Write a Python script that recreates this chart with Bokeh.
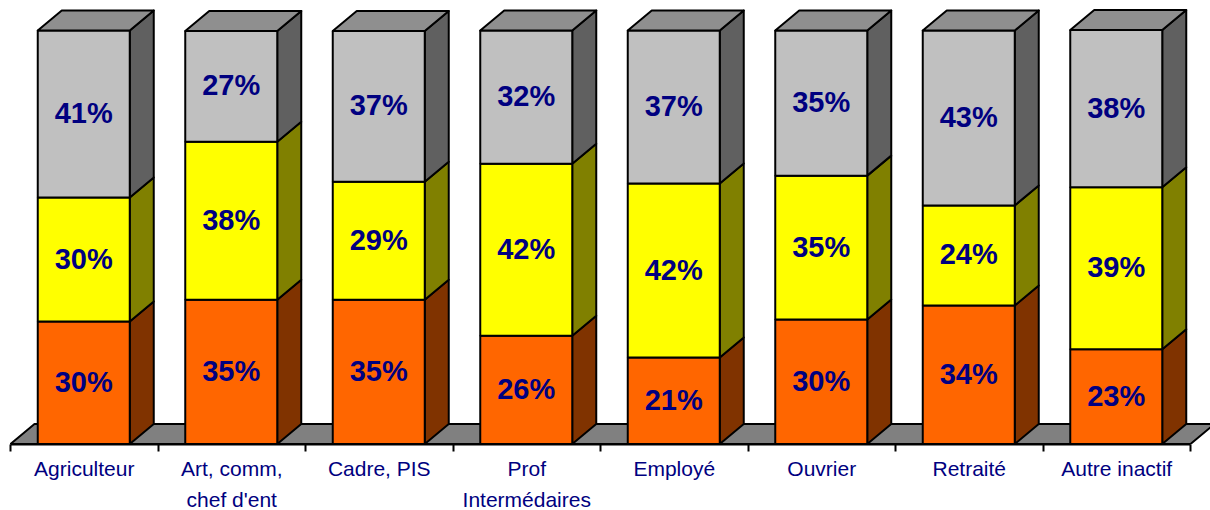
from bokeh.plotting import figure
from bokeh.models import FixedTicker, Range1d, ColumnDataSource
from bokeh.core.properties import value
from bokeh.embed import file_html
from bokeh.resources import INLINE

categories = ["Agriculteur", "Art, comm,\nchef d'ent", "Cadre, PIS", "Prof\nIntermédaires",
              "Employé", "Ouvrier", "Retraité", "Autre inactif"]
orange_values = [29.6, 34.9, 34.9, 26.2, 20.9, 30.1, 33.5, 22.9]
yellow_values = [30.0, 38.2, 28.5, 41.6, 42.1, 34.8, 24.2, 39.2]
grey_values = [40.4, 26.8, 36.5, 32.2, 37.0, 35.1, 42.3, 38.0]
orange_labels = ["30%", "35%", "35%", "26%", "21%", "30%", "34%", "23%"]
yellow_labels = ["30%", "38%", "29%", "42%", "42%", "35%", "24%", "39%"]
grey_labels = ["41%", "27%", "37%", "32%", "37%", "35%", "43%", "38%"]

W, H = 1210, 510
PX_X = 147.5          # pixels per category
PX_Y = 4.135          # pixels per percentage point
DX = 24 / PX_X        # depth offset of the 3D box
DY = 20 / PX_Y
BAR = 92 / PX_X
SHIFT = -0.5 / PX_X   # bars sit slightly left of the category centre
NAVY = "#000080"
FONT = "Liberation Sans"
LW = 2

p = figure(width=W, height=H, output_backend="svg", toolbar_location=None,
           x_range=Range1d(-10 / PX_X, 1200 / PX_X),
           y_range=Range1d(-0.5 / PX_Y, 443.5 / PX_Y),
           frame_width=1210, frame_height=444,
           min_border_left=0, min_border_right=0, min_border_top=0, min_border_bottom=0)
p.outline_line_color = None
p.grid.visible = False
p.yaxis.visible = False
p.background_fill_color = "white"

n = len(categories)
centers = [i + 0.5 for i in range(n)]
bar_x = [c + SHIFT for c in centers]

# floor
p.patch([0, n, n + DX, DX], [0, 0, DY, DY], fill_color="#808080", line_color="black", line_width=LW)

series = [
    (orange_values, orange_labels, "#FF6600", "#803300"),
    (yellow_values, yellow_labels, "#FFFF00", "#808000"),
    (grey_values, grey_labels, "#C0C0C0", "#606060"),
]
base = [0.0] * n
lefts = [c - BAR / 2 for c in bar_x]
rights = [c + BAR / 2 for c in bar_x]
for vals, labs, front, side in series:
    tops = [b + v for b, v in zip(base, vals)]
    p.patches([[r, r + DX, r + DX, r] for r in rights],
              [[b, b + DY, t + DY, t] for b, t in zip(base, tops)],
              fill_color=side, line_color="black", line_width=LW, line_join="round")
    p.quad(left=lefts, right=rights, bottom=base, top=tops,
           fill_color=front, line_color="black", line_width=LW)
    base = tops

# roof of the columns
p.patches([[l, r, r + DX, l + DX] for l, r in zip(lefts, rights)],
          [[t, t, t + DY, t + DY] for t in base],
          fill_color="#8F8F8F", line_color="black", line_width=LW, line_join="round")

# value labels
base = [0.0] * n
for vals, labs, front, side in series:
    mids = [b + v / 2 for b, v in zip(base, vals)]
    src = ColumnDataSource(dict(x=bar_x, y=mids, t=labs))
    p.text("x", "y", text="t", source=src, text_align="center", text_baseline="middle", y_offset=-1,
           text_color=NAVY, text_font=value(FONT), text_font_style="bold", text_font_size="29px")
    base = [b + v for b, v in zip(base, vals)]

ax = p.xaxis[0]
ax.ticker = FixedTicker(ticks=centers, minor_ticks=list(range(n + 1)))
ax.major_label_overrides = {c: t for c, t in zip(centers, categories)}
ax.bounds = (0, n)
ax.axis_line_color = "black"
ax.axis_line_width = LW
ax.major_tick_in = 0
ax.major_tick_out = 0
ax.minor_tick_in = 0
ax.minor_tick_out = 7
ax.minor_tick_line_color = "black"
ax.minor_tick_line_width = LW
ax.major_label_standoff = 5
ax.major_label_orientation = "horizontal"
ax.major_label_text_font = FONT
ax.major_label_text_font_size = "21px"
ax.major_label_text_color = NAVY
ax.major_label_text_line_height = 1.38

open("out.html", "w").write(file_html(p, INLINE))
